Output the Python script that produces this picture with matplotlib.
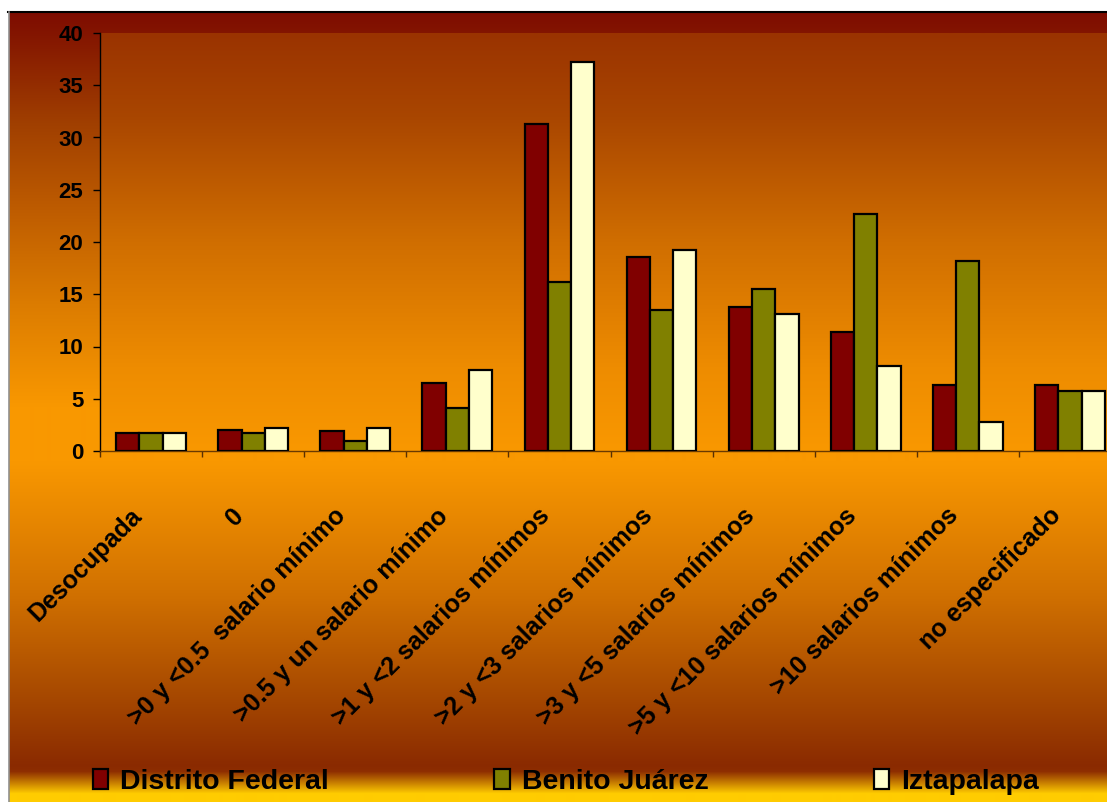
import numpy as np
import matplotlib
matplotlib.use('Agg')
import matplotlib.pyplot as plt
from matplotlib.colors import to_rgb
from matplotlib.transforms import ScaledTranslation

plt.rcParams['font.family'] = ['Liberation Sans', 'DejaVu Sans']
plt.rcParams['font.weight'] = 'bold'

# data (percent)
categories = ['Desocupada', '0', '>0 y <0.5  salario mínimo',
              '>0.5 y un salario mínimo', '>1 y <2 salarios mínimos',
              '>2 y <3 salarios mínimos', '>3 y <5 salarios mínimos',
              '>5 y <10 salarios mínimos', '>10 salarios mínimos',
              'no especificado']
distrito_federal = [1.7, 2.0, 1.9, 6.5, 31.3, 18.6, 13.8, 11.4, 6.3, 6.3]
benito_juarez = [1.7, 1.7, 1.0, 4.1, 16.2, 13.5, 15.5, 22.7, 18.2, 5.7]
iztapalapa = [1.7, 2.2, 2.2, 7.75, 37.2, 19.2, 13.1, 8.1, 2.8, 5.7]
series_names = ['Distrito Federal', 'Benito Juárez', 'Iztapalapa']
series_colors = ['#800000', '#808000', '#FFFFCC']
yticks = list(range(0, 41, 5))


def gradient(stops, n):
    # vertical gradient, stops = [(pos 0..1, colour), ...]
    pos = np.array([s[0] for s in stops])
    cols = np.array([to_rgb(s[1]) for s in stops])
    t = np.linspace(0, 1, n)
    img = np.stack([np.interp(t, pos, cols[:, k]) for k in range(3)], axis=-1)
    return img[:, None, :]


W, H = 1107, 802
fig = plt.figure(figsize=(W / 100, H / 100), dpi=100, facecolor='white')

# outer chart area background
bg = fig.add_axes([0, 0, 1, 1])
bg.set_xlim(0, W)
bg.set_ylim(H, 0)
bg.axis('off')
outer = gradient([(0.0, '#7E0C00'), (0.03, '#841600'), (0.14, '#A03F00'),
                  (0.25, '#BE5C00'), (0.37, '#DC7C00'), (0.5, '#F99800'),
                  (0.57, '#F99800'), (0.74, '#D07000'), (0.88, '#A24400'),
                  (0.955, '#8A2A00'), (0.962, '#8E2E00'), (0.99, '#FFCC00'),
                  (1.0, '#FFCC00')], 790)
bg.imshow(outer, extent=[9, W, H, 12], aspect='auto', interpolation='bilinear')
bg.plot([8, W], [12, 12], color='black', lw=1.5)
bg.plot([8.5, 8.5], [12, H], color='#909090', lw=1.2)

# plot area
ax = fig.add_axes([100 / W, 1 - 451 / H, 1021 / W, 418 / H])
ax.set_facecolor('none')
inner = gradient([(0.0, '#9A3300'), (0.2, '#A94600'), (0.5, '#D06E00'),
                  (0.8, '#EE8C00'), (1.0, '#F99800')], 400)
ax.imshow(inner, extent=[-0.5, 9.5, 0, 40], aspect='auto',
          interpolation='bilinear', zorder=0)

x = np.arange(len(categories))
bw = 0.228
for k, (vals, name, col) in enumerate(zip([distrito_federal, benito_juarez, iztapalapa],
                                          series_names, series_colors)):
    ax.bar(x + (k - 1) * bw, vals, bw, color=col, edgecolor='black',
           linewidth=1.6, label=name, zorder=3)

ax.set_xlim(-0.5, 9.5)
ax.set_ylim(0, 40)

for s in ['top', 'right']:
    ax.spines[s].set_visible(False)
ax.spines['left'].set_color('black')
ax.spines['left'].set_linewidth(1.0)
ax.spines['bottom'].set_color('#6A3A00')
ax.spines['bottom'].set_linewidth(1.0)

ax.set_yticks(yticks)
ax.tick_params(axis='y', length=5, width=1, pad=7, labelsize=16,
               colors='black')

ax.set_xticks(np.arange(-0.5, 10, 1))
ax.set_xticklabels([])
ax.tick_params(axis='x', which='major', length=4.5, width=1, color='#5A3000')
ax.set_xticks(x, minor=True)
ax.set_xticklabels(categories, minor=True, rotation=45, ha='right',
                   va='center', rotation_mode='anchor', fontsize=18)
ax.tick_params(axis='x', which='minor', length=0, pad=44)
shift = ScaledTranslation(-13 / 100, 0, fig.dpi_scale_trans)
for lbl in ax.get_xticklabels(minor=True):
    lbl.set_transform(lbl.get_transform() + shift)

fig.legend(loc='center', bbox_to_anchor=(566 / W, 1 - 782 / H), ncol=3,
           frameon=False, fontsize=20.5, handlelength=0.55, handleheight=0.7,
           handletextpad=0.42, columnspacing=5.8, borderpad=0)

fig.savefig('out.png', dpi=100, facecolor='white')
